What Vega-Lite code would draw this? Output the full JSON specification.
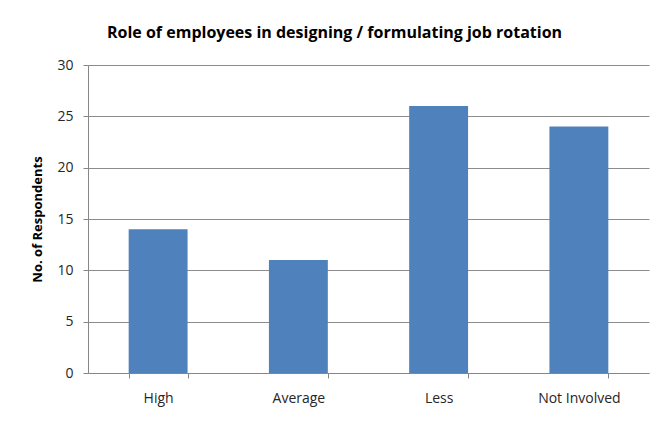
{
  "$schema": "https://vega.github.io/schema/vega-lite/v6.json",
  "width": 561,
  "height": 308,
  "autosize": "none",
  "padding": {"left": 88, "top": 65, "right": 13, "bottom": 50},
  "background": "white",
  "title": {
    "text": "Role of employees in designing / formulating job rotation",
    "anchor": "start",
    "frame": "group",
    "dx": 19,
    "offset": 17,
    "font": "Open Sans",
    "fontSize": 16,
    "fontWeight": "bold",
    "color": "#000000"
  },
  "data": {
    "values": [
      {"level": "High", "respondents": 14},
      {"level": "Average", "respondents": 11},
      {"level": "Less", "respondents": 26},
      {"level": "Not Involved", "respondents": 24}
    ]
  },
  "mark": {"type": "bar", "color": "#4F81BD"},
  "encoding": {
    "x": {
      "field": "level",
      "type": "nominal",
      "sort": null,
      "scale": {"paddingInner": 0.58, "paddingOuter": 0.29},
      "axis": {
        "title": null,
        "labelAngle": 0,
        "tickBand": "extent",
        "tickSize": 5,
        "labelPadding": 13,
        "grid": false
      }
    },
    "y": {
      "field": "respondents",
      "type": "quantitative",
      "scale": {"domain": [0, 30], "nice": false},
      "axis": {
        "title": "No. of Respondents",
        "values": [0, 5, 10, 15, 20, 25, 30],
        "tickSize": 5,
        "labelPadding": 10,
        "titlePadding": 12,
        "grid": true
      }
    }
  },
  "config": {
    "view": {"stroke": null},
    "axis": {
      "domainColor": "#868686",
      "tickColor": "#868686",
      "gridColor": "#8C8C8C",
      "labelFont": "Open Sans",
      "labelFontSize": 14,
      "labelColor": "#262626",
      "titleFont": "Open Sans",
      "titleFontSize": 13,
      "titleFontWeight": "bold",
      "titleColor": "#000000"
    }
  }
}
